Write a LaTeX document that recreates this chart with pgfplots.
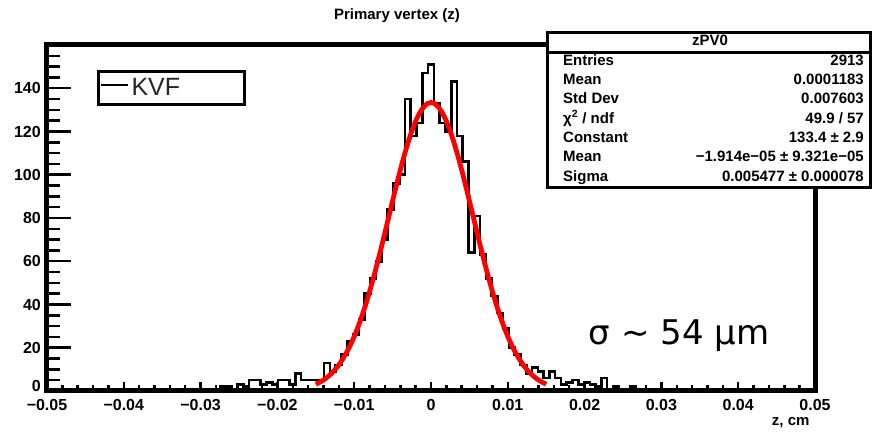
\documentclass[border=0pt]{standalone}
\usepackage{fontspec}
\setmainfont{Liberation Sans}
\newfontfamily\dejavu{DejaVu Sans}
\usepackage{pgfplots}
\pgfplotsset{compat=1.18}
\newcommand\tickfont{\fontsize{16pt}{18pt}\selectfont\bfseries}
\newcommand\statfont{\fontsize{15pt}{17pt}\selectfont\bfseries}
\begin{document}
\begin{tikzpicture}
\path[use as bounding box] (0pt,0pt) rectangle (886pt,433pt);
\begin{axis}[
  at={(47pt,42pt)}, anchor=south west,
  scale only axis, width=768pt, height=346pt,
  xmin=-0.05, xmax=0.05, ymin=0, ymax=160,
  scaled x ticks=false, scaled y ticks=false,
  axis line style={line width=5pt},
  tick pos=left, tick align=inside,
  xtick={-0.05,-0.04,-0.03,-0.02,-0.01,0,0.01,0.02,0.03,0.04,0.05},
  xticklabels={−0.05,−0.04,−0.03,−0.02,−0.01,0,0.01,0.02,0.03,0.04,0.05},
  ytick={0,20,40,60,80,100,120,140,160},
  yticklabels={\raisebox{5pt}[\height][0pt]{0},20,40,60,80,100,120,140,{}},
  minor x tick num=4, minor y tick num=3,
  every tick/.style={black, line width=2.5pt},
  xtick style={/pgfplots/major tick length=9pt, /pgfplots/minor tick length=6pt},
  ytick style={/pgfplots/major tick length=24pt, /pgfplots/minor tick length=13pt},
  ticklabel style={font=\tickfont},
  xticklabel style={anchor=north, inner sep=0pt, yshift=-8pt},
  yticklabel style={anchor=east, inner sep=0pt, xshift=-6pt},
  title={Primary vertex (z)},
  title style={at={(axis description cs:0.4557,1)}, anchor=center, yshift=23pt,
    font=\fontsize{15pt}{17pt}\selectfont\bfseries},
  xlabel={z, cm},
  xlabel style={at={(axis description cs:1,0)}, anchor=east, xshift=-2pt, yshift=-32pt,
    font=\fontsize{15pt}{17pt}\selectfont\bfseries},
  legend style={at={(axis description cs:0.0645,0.928)}, anchor=north west,
    draw=black, line width=3pt, inner xsep=2pt, inner ysep=5pt,
    font=\fontsize{25pt}{28pt}\selectfont, text=black!85,
    cells={anchor=west}},
  legend cell align=left,
]
\addplot[const plot, black, line width=2.6pt,
  legend image code/.code={\draw[black, line width=2.5pt] (0pt,0.3em) -- (27pt,0.3em);}]
table[row sep=\\] {
x y \\
-0.050000 0 \\
-0.030451 1 \\
-0.029699 0 \\
-0.028947 1 \\
-0.028195 1 \\
-0.027444 2 \\
-0.026692 2 \\
-0.025940 1 \\
-0.025188 3 \\
-0.024436 2 \\
-0.023684 5 \\
-0.022932 5 \\
-0.022180 3 \\
-0.021429 4 \\
-0.020677 3 \\
-0.019925 5 \\
-0.019173 5 \\
-0.018421 3 \\
-0.017669 8 \\
-0.016917 5 \\
-0.016165 5 \\
-0.015414 5 \\
-0.014662 5 \\
-0.013910 13 \\
-0.013158 9 \\
-0.012406 12 \\
-0.011654 17 \\
-0.010902 23 \\
-0.010150 26 \\
-0.009398 33 \\
-0.008647 45 \\
-0.007895 52 \\
-0.007143 60 \\
-0.006391 70 \\
-0.005639 84 \\
-0.004887 96 \\
-0.004135 100 \\
-0.003383 135 \\
-0.002632 118 \\
-0.001880 124 \\
-0.001128 147 \\
-0.000376 151 \\
0.000376 133 \\
0.001128 124 \\
0.001880 120 \\
0.002632 143 \\
0.003383 118 \\
0.004135 106 \\
0.004887 64 \\
0.005639 81 \\
0.006391 63 \\
0.007143 52 \\
0.007895 44 \\
0.008647 36 \\
0.009398 29 \\
0.010150 20 \\
0.010902 17 \\
0.011654 12 \\
0.012406 8 \\
0.013158 11 \\
0.013910 9 \\
0.014662 6 \\
0.015414 9 \\
0.016165 6 \\
0.016917 3 \\
0.017669 4 \\
0.018421 5 \\
0.019173 3 \\
0.019925 4 \\
0.020677 3 \\
0.021429 2 \\
0.022180 6 \\
0.022932 1 \\
0.023684 2 \\
0.024436 1 \\
0.025188 1 \\
0.025940 2 \\
0.026692 1 \\
0.027444 0 \\
0.028195 1 \\
0.028947 1 \\
0.029699 0 \\
0.050000 0 \\
};
\addlegendentry{KVF\hspace*{60pt}}
\addplot[red, line width=4.8pt, forget plot] coordinates {
(-0.0150,3.14) (-0.0145,4.01) (-0.0140,5.08) (-0.0135,6.39) (-0.0130,7.97)
(-0.0125,9.86) (-0.0120,12.10) (-0.0115,14.72) (-0.0110,17.75) (-0.0105,21.24)
(-0.0100,25.19) (-0.0095,29.64) (-0.0090,34.58) (-0.0085,40.01) (-0.0080,45.91)
(-0.0075,52.24) (-0.0070,58.94) (-0.0065,65.97) (-0.0060,73.21) (-0.0055,80.57)
(-0.0050,87.94) (-0.0045,95.19) (-0.0040,102.17) (-0.0035,108.76) (-0.0030,114.82)
(-0.0025,120.20) (-0.0020,124.80) (-0.0015,128.49) (-0.0010,131.19) (-0.0005,132.85)
(0,133.40)
(0.0005,132.85) (0.0010,131.19) (0.0015,128.49) (0.0020,124.80) (0.0025,120.20)
(0.0030,114.82) (0.0035,108.76) (0.0040,102.17) (0.0045,95.19) (0.0050,87.94)
(0.0055,80.57) (0.0060,73.21) (0.0065,65.97) (0.0070,58.94) (0.0075,52.24)
(0.0080,45.91) (0.0085,40.01) (0.0090,34.58) (0.0095,29.64) (0.0100,25.19)
(0.0105,21.24) (0.0110,17.75) (0.0115,14.72) (0.0120,12.10) (0.0125,9.86)
(0.0130,7.97) (0.0135,6.39) (0.0140,5.08) (0.0145,4.01) (0.0150,3.14)
};
\end{axis}
% statistics box
\draw[line width=3pt, fill=white] (547pt,245pt) rectangle (870pt,400pt);
\draw[line width=3pt] (547pt,380pt) -- (870pt,380pt);
\begin{scope}[every node/.style={font=\statfont, inner sep=0pt, text height=0.72em, text depth=0.2em}]
\node at (710pt,390pt) {zPV0};
\node[anchor=west] at (563pt,370.4pt) {Entries};
\node[anchor=east] at (864pt,370.4pt) {2913};
\node[anchor=west] at (563pt,351pt) {Mean};
\node[anchor=east] at (864pt,351pt) {0.0001183};
\node[anchor=west] at (563pt,332pt) {Std Dev};
\node[anchor=east] at (864pt,332pt) {0.007603};
\node[anchor=west] at (563pt,312.5pt) {χ\textsuperscript{2} / ndf};
\node[anchor=east] at (864pt,312.5pt) {49.9 / 57};
\node[anchor=west] at (563pt,293pt) {Constant};
\node[anchor=east] at (864pt,293pt) {133.4 ± 2.9};
\node[anchor=west] at (563pt,274pt) {Mean};
\node[anchor=east] at (864pt,274pt) {−1.914e−05 ± 9.321e−05};
\node[anchor=west] at (563pt,254.5pt) {Sigma};
\node[anchor=east] at (864pt,254.5pt) {0.005477 ± 0.000078};
\end{scope}
\node[anchor=base, font=\dejavu\fontsize{34pt}{40pt}\selectfont, inner sep=0pt] at (679pt,88pt) {σ ∼ 54 μm};
\end{tikzpicture}
\end{document}
